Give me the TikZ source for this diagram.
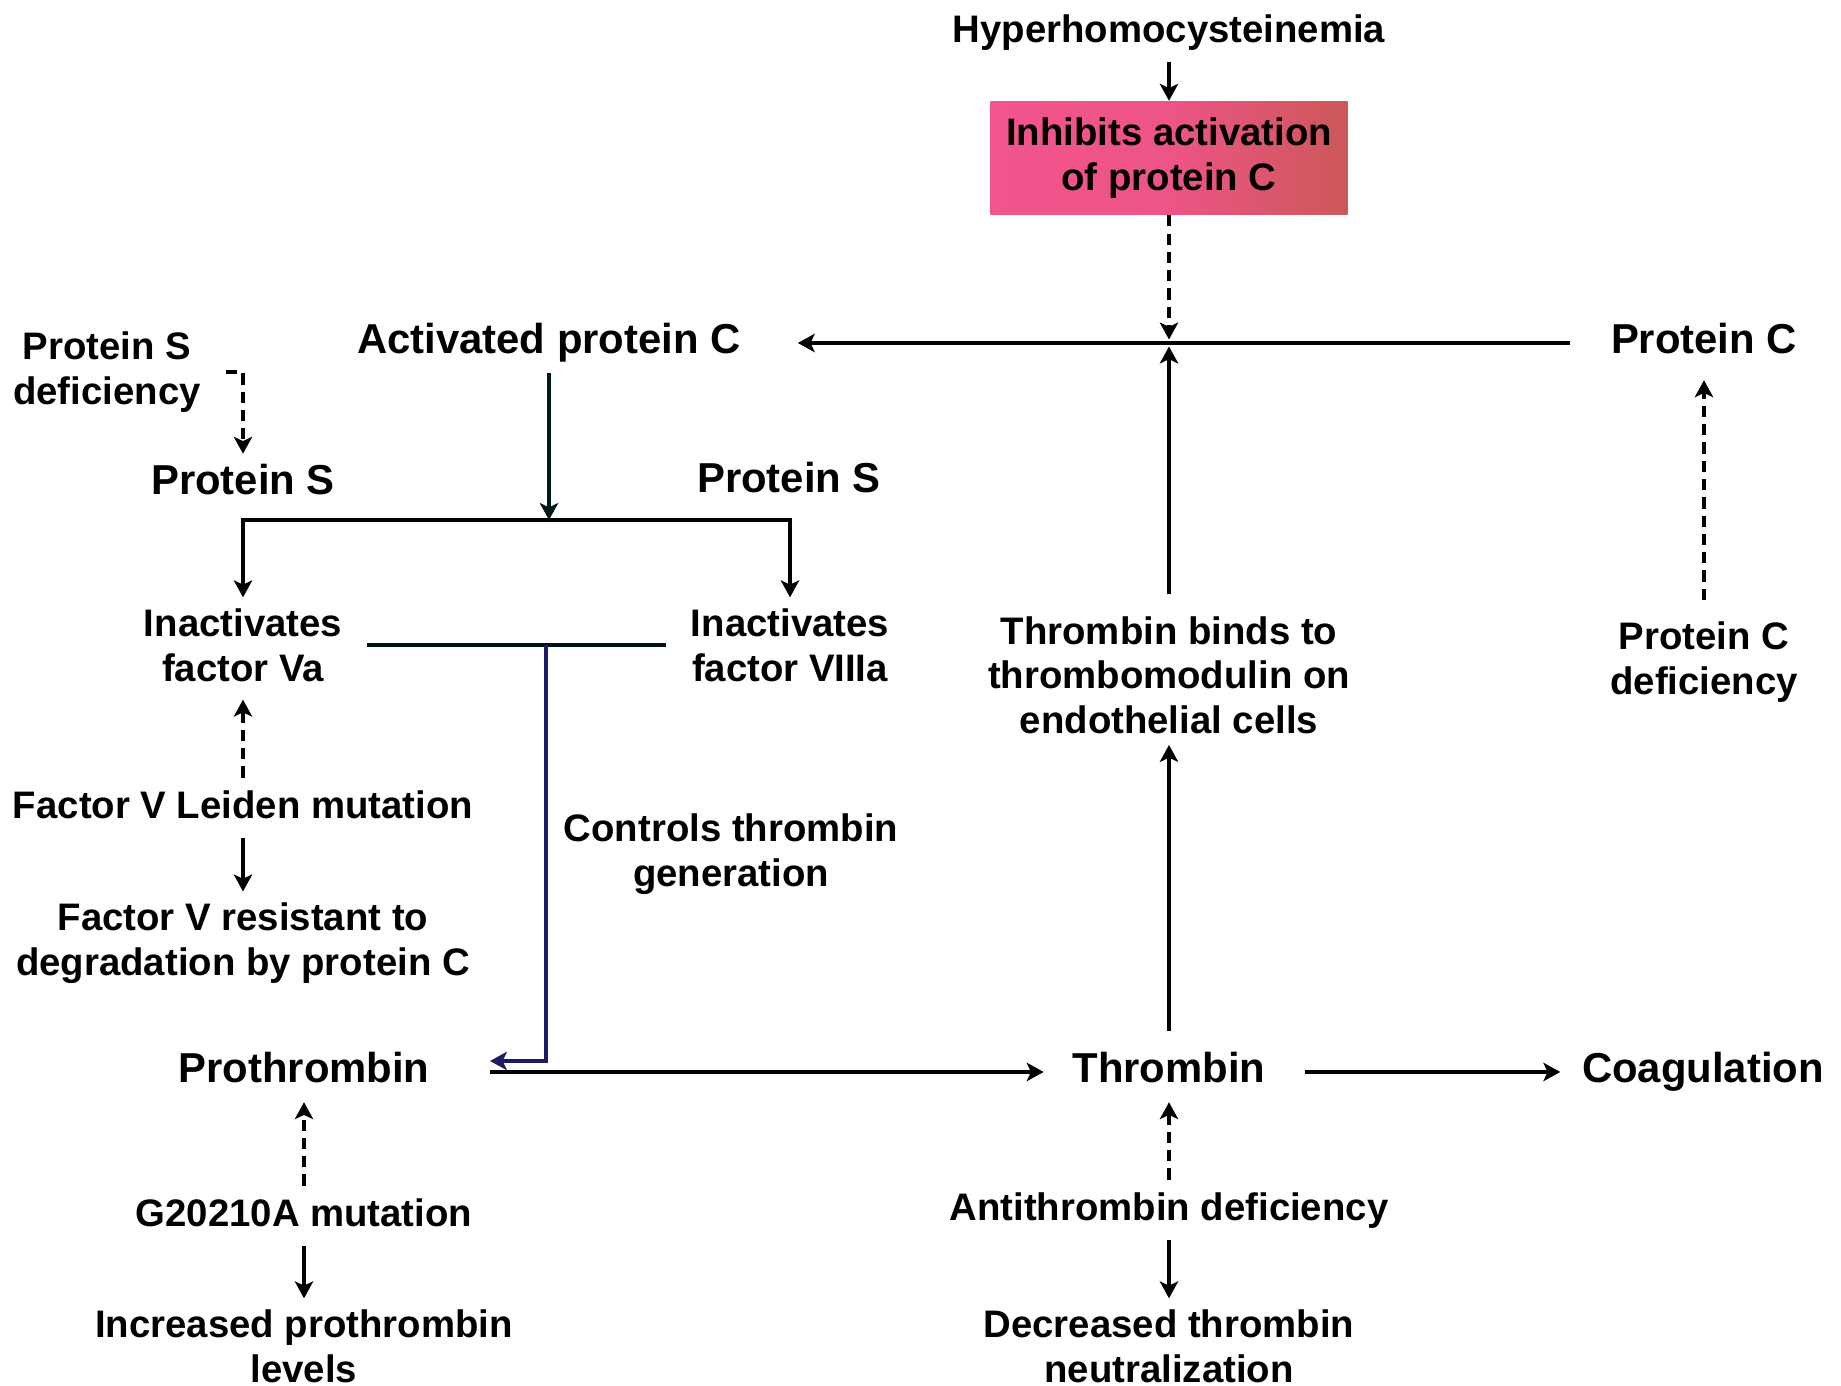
\documentclass[tikz,border=0pt]{standalone}
\usepackage{fontspec}
\setmainfont{Liberation Sans}
\usetikzlibrary{arrows.meta,calc}
\definecolor{navyl}{RGB}{28,28,100}
\definecolor{pinkL}{RGB}{242,84,142}
\definecolor{pinkR}{RGB}{204,88,88}
\tikzset{
  hd/.style={font=\fontsize{11.9}{13.5}\selectfont\bfseries, inner sep=3pt, align=center},
  tx/.style={font=\fontsize{10.9}{12.7}\selectfont\bfseries, inner sep=3pt, align=center},
  one/.style={text height=8.4pt, text depth=2.4pt},
  arr/.style={-{Stealth[length=4.8pt,width=5.2pt,inset=1.2pt]}, line width=1.1pt},
  dsh/.style={arr, dash pattern=on 3.2pt off 2pt},
  ln/.style={line width=1.1pt},
}
\begin{document}
\begin{tikzpicture}[x=0.01cm,y=-0.01cm]
\useasboundingbox (0,0) rectangle (1841,1386);
% nodes
\node[tx,one] (hyper) at (1169,32) {Hyperhomocysteinemia};
\node[tx, minimum width=3.57cm, minimum height=1.13cm, inner sep=0pt,
      left color=pinkL, right color=pinkR, middle color=pinkL!85!pinkR] (box) at (1169,158) {Inhibits activation\\of protein C};
\node[hd,one] (apc) at (549,343) {Activated protein C};
\node[hd,one] (pc) at (1704,343) {Protein C};
\node[tx] (pcd) at (1704,662) {Protein C\\deficiency};
\node[tx] (tm) at (1169,675) {Thrombin binds to\\thrombomodulin on\\endothelial cells};
\node[hd,one] (thr) at (1169,1072) {Thrombin};
\node[hd,one] (coag) at (1703,1072) {Coagulation};
\node[hd,one] (pro) at (304,1072) {Prothrombin};
\node[tx,one] (g20) at (304,1216) {G20210A mutation};
\node[tx] (inc) at (304,1346) {Increased prothrombin\\levels};
\node[tx,one] (anti) at (1169,1210) {Antithrombin deficiency};
\node[tx] (dec) at (1169,1346) {Decreased thrombin\\neutralization};
\node[tx] (psd) at (107,372) {Protein S\\deficiency};
\node[hd,one] (psl) at (243,484) {Protein S};
\node[hd,one] (psr) at (789,482) {Protein S};
\node[tx] (iva) at (243,645) {Inactivates\\factor Va};
\node[tx] (iviii) at (790,645) {Inactivates\\factor VIIIa};
\node[tx] (ctg) at (731,854) {Controls thrombin\\generation};
\node[tx,one] (fvl) at (243,808) {Factor V Leiden mutation};
\node[tx] (fvr) at (243,943) {Factor V resistant to\\degradation by protein C};
% coordinates
\coordinate (jn) at (1169,343);
\coordinate (brM) at (546,520);
\coordinate (tM) at (546,645);
\coordinate (proIn) at (490,1061);
% connectors
\draw[arr] (hyper.south) -- (box.north);
\draw[dsh, shorten >=1pt] (box.south) -- (jn);
\draw[arr, shorten <=3pt, shorten >=1pt] (tm.north) -- (jn);
\draw[arr, shorten <=8.5pt, shorten >=13pt] (pc.west |- jn) -- (apc.east |- jn);
\draw[dsh, shorten <=3pt, shorten >=2pt] (pcd.north) -- (pc.south);
\draw[arr, shorten <=3pt] (thr.north) -- (tm.south);
\draw[arr, shorten <=8pt, shorten >=3pt] (thr.east) -- (coag.west);
\draw[arr, shorten <=14pt, shorten >=5pt] (pro.east) -- (thr.west);
\draw[dsh] (anti.north) -- (thr.south);
\draw[arr] (anti.south) -- (dec.north);
\draw[dsh] (g20.north) -- (pro.south);
\draw[arr] (g20.south) -- (inc.north);
% activated protein C -> bracket
\draw[arr, draw=black!80!teal] (apc.south) -- (apc.south |- brM);
\draw[arr] (brM) -| (iva.north);
\draw[arr] (brM) -| (iviii.north);
% protein S deficiency
\draw[dsh] ([xshift=4pt]psd.east) -| (psl.north);
% factor V Leiden
\draw[dsh, shorten >=2pt] (fvl.north) -- (iva.south);
\draw[arr] (fvl.south) -- (fvr.north);
% T-bar: controls thrombin generation
\draw[ln, draw=black!85!teal, shorten <=4pt, shorten >=4pt] (iva.east |- tM) -- (iviii.west |- tM);
\draw[arr, draw=navyl] (tM) |- (proIn);
\end{tikzpicture}
\end{document}
